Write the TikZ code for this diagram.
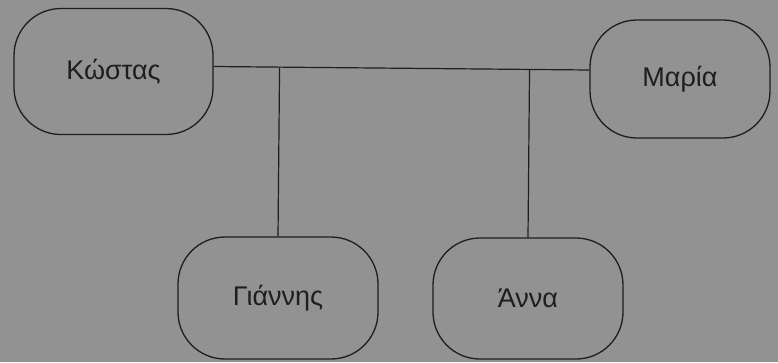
\documentclass[tikz,border=0pt]{standalone}
\usepackage{fontspec}
\setmainfont{Liberation Sans}
\usetikzlibrary{calc}
\definecolor{paper}{RGB}{146,146,146}
\definecolor{ink}{RGB}{30,30,30}
\tikzset{
	person/.style={draw=ink, line width=1.3pt, rounded corners=47pt, text=ink,
		font=\fontsize{27}{30}\selectfont, inner sep=0pt},
	link/.style={draw=ink, line width=1.2pt}
}

\begin{document}
\begin{tikzpicture}[x=1pt, y=-1pt]
				%%%%% START %%%%%
				\fill[paper] (0, 0) rectangle (778, 362);
				\useasboundingbox (0, 0) rectangle (778, 362);
				
				\node[person, minimum width=199pt, minimum height=126pt] (kostas) at (113.5, 71.5) {Κώστας};
				\node[person, minimum width=180pt, minimum height=118pt] (maria) at (680, 79) {Μαρία};
				\node[person, minimum width=200pt, minimum height=122pt] (giannis) at (278, 298) {Γιάννης};
				\node[person, minimum width=190pt, minimum height=121pt] (anna) at (528, 298.5) {Άννα};
				
				\coordinate (busL) at ($(kostas.east) + (0, -5)$);
				\coordinate (busR) at ($(maria.west) + (0, -9)$);
				\draw[link] (busL) -- (busR);
				
				\coordinate (forkG) at ($(busL)!(giannis.north)!(busR)$);
				\coordinate (forkA) at ($(busL)!(anna.north)!(busR)$);
				\draw[link] (forkG) -- (giannis.north);
				\draw[link] (forkA) -- (anna.north);
				%%%%% END %%%%%
\end{tikzpicture}
\end{document}
